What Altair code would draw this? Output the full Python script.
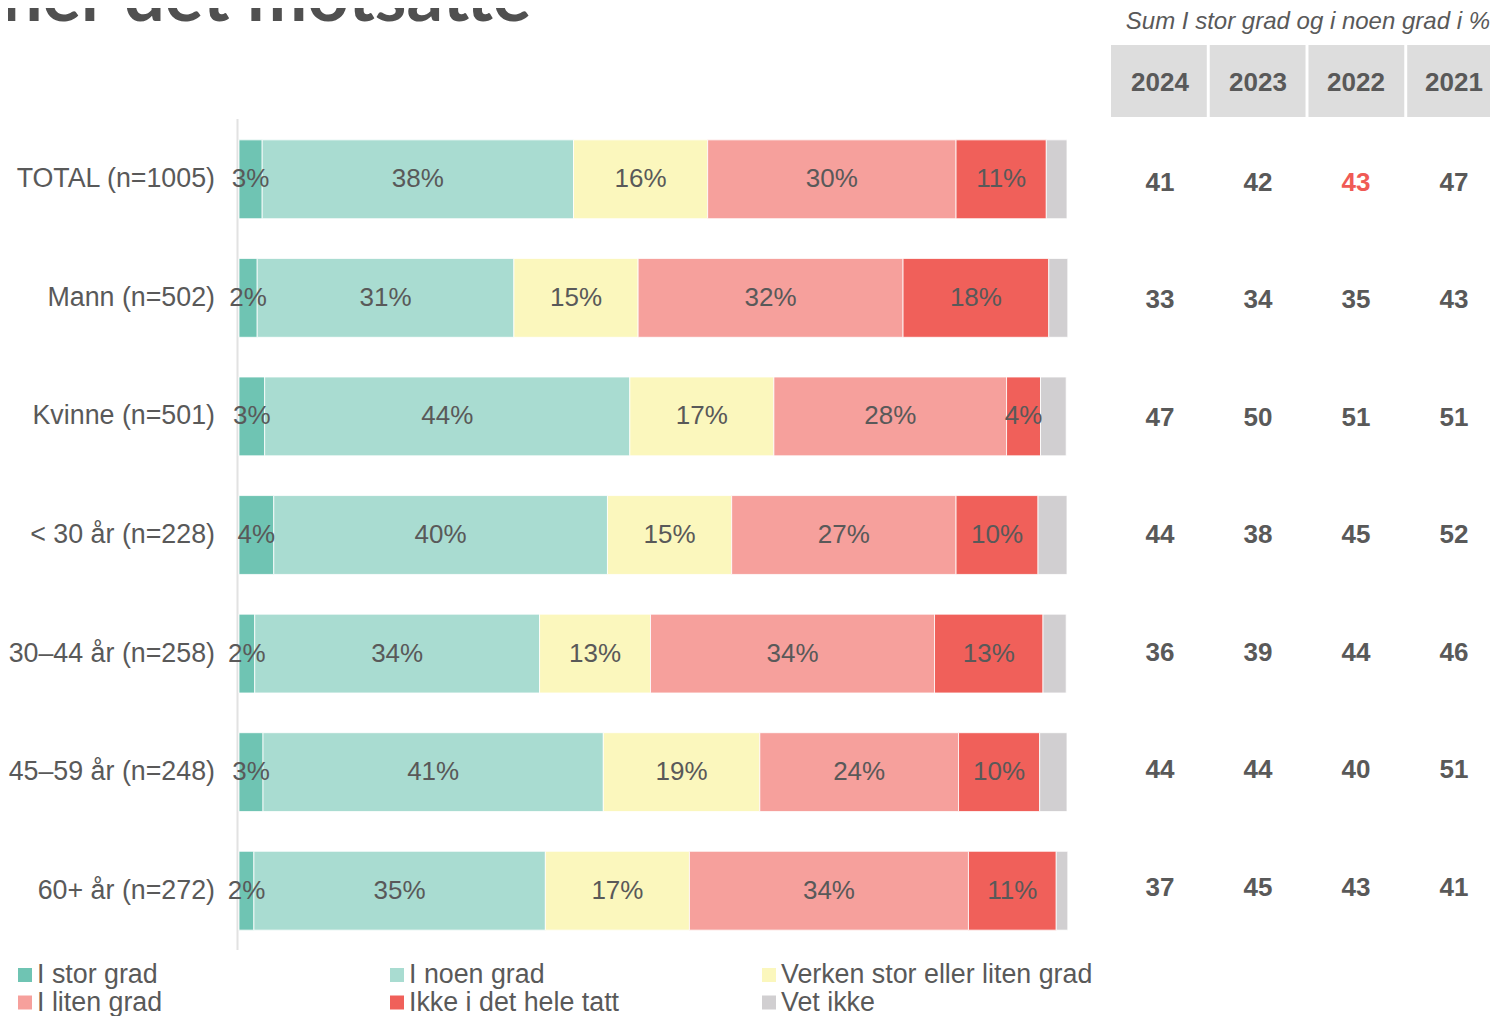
import altair as alt
import pandas as pd

# ---------------- data ----------------
groups = ["TOTAL (n=1005)", "Mann (n=502)", "Kvinne (n=501)", "< 30 år (n=228)",
          "30–44 år (n=258)", "45–59 år (n=248)", "60+ år (n=272)"]
categories = ["I stor grad", "I noen grad", "Verken stor eller liten grad",
              "I liten grad", "Ikke i det hele tatt", "Vet ikke"]
colors = ["#6FC4B3", "#A9DCD1", "#FBF7BD", "#F6A09C", "#F0605A", "#D1CFD1"]

stor = [2.8, 2.2, 3.1, 4.2, 1.9, 2.9, 1.8]
noen = [37.6, 31.0, 44.1, 40.3, 34.4, 41.1, 35.2]
verken = [16.2, 15.0, 17.4, 15.0, 13.4, 18.9, 17.4]
liten = [30.0, 32.0, 28.1, 27.1, 34.3, 24.0, 33.7]
ikke = [10.9, 17.6, 4.1, 9.9, 13.1, 9.8, 10.6]
vet = [2.5, 2.3, 3.1, 3.5, 2.8, 3.3, 1.4]
series = [stor, noen, verken, liten, ikke, vet]

years = ["2024", "2023", "2022", "2021"]
sum2024 = [41, 33, 47, 44, 36, 44, 37]
sum2023 = [42, 34, 50, 38, 39, 44, 45]
sum2022 = [43, 35, 51, 45, 44, 40, 43]
sum2021 = [47, 43, 51, 52, 46, 51, 41]
year_values = [sum2024, sum2023, sum2022, sum2021]
highlight_group = "TOTAL (n=1005)"
highlight_year = "2022"

title_text = "ner det motsatte"
subtitle_text = "Sum I stor grad og i noen grad i %"

# ---------------- tables ----------------
bar_rows = []
for ci, (cat, vals) in enumerate(zip(categories, series)):
    for g, v in zip(groups, vals):
        bar_rows.append({"group": g, "category": cat, "order": ci, "value": v})
bar_df = pd.DataFrame(bar_rows)

tab_rows = []
for y, vals in zip(years, year_values):
    for g, v in zip(groups, vals):
        tab_rows.append({"group": g, "year": y, "val": v,
                         "hl": (g == highlight_group and y == highlight_year)})
tab_df = pd.DataFrame(tab_rows)
head_df = pd.DataFrame({"year": years})
leg_df = pd.DataFrame({"category": categories,
                       "col": [i % 3 for i in range(len(categories))],
                       "row": [i // 3 for i in range(len(categories))]})

FONT = "Liberation Sans"
GREY = "#595959"

yscale = alt.Scale(domain=groups, range=[112, 942], paddingInner=0.335, paddingOuter=0.1675)
tab_yscale = alt.Scale(type="point", domain=groups, range=[174.5, 879.5], padding=0)
xscale = alt.Scale(domain=[0, 100], range=[231, 1059])
cscale = alt.Scale(domain=categories, range=colors)
yrscale = alt.Scale(domain=years, range=[1103, 1495], paddingInner=0.03, paddingOuter=0)
leg_x_sq = alt.Scale(type="point", domain=[0, 1, 2], range=[17, 761], padding=0)
leg_x_tx = alt.Scale(type="point", domain=[0, 1, 2], range=[29, 773], padding=0)
leg_y = alt.Scale(type="point", domain=[0, 1], range=[967, 994.5], padding=0)

stacked = alt.Chart(bar_df).transform_stack(
    stack="value", groupby=["group"], as_=["x0", "x1"],
    sort=[alt.SortField("order", order="ascending")]
)

bars = stacked.mark_bar(stroke="white", strokeWidth=0.8).encode(
    x=alt.X("x0:Q", scale=xscale, axis=None),
    x2="x1:Q",
    y=alt.Y("group:N", scale=yscale, axis=None),
    color=alt.Color("category:N", scale=cscale, legend=None),
)

seg_labels = stacked.transform_filter(
    alt.datum.category != "Vet ikke"
).transform_calculate(
    mid="(datum.x0 + datum.x1) / 2",
    lab="format(datum.value, '.0f') + '%'"
).mark_text(font=FONT, fontSize=26, color=GREY, baseline="middle", align="center").encode(
    x=alt.X("mid:Q", scale=xscale, axis=None),
    y=alt.Y("group:N", scale=yscale, axis=None),
    text="lab:N",
)

axis_line = alt.Chart(pd.DataFrame({"a": [0]})).mark_rule(color="#E2E2E2", strokeWidth=2).encode(
    x=alt.value(229.5), y=alt.value(111), y2=alt.value(942)
)

cat_labels = alt.Chart(pd.DataFrame({"group": groups})).mark_text(
    font=FONT, fontSize=26.8, color=GREY, align="right", baseline="middle"
).encode(
    x=alt.value(207),
    y=alt.Y("group:N", scale=yscale, axis=None),
    text="group:N",
)

head_boxes = alt.Chart(head_df).mark_bar(color="#DDDDDD").encode(
    x=alt.X("year:N", scale=yrscale, axis=None),
    y=alt.value(37), y2=alt.value(109),
)
head_text = alt.Chart(head_df).mark_text(
    font=FONT, fontSize=26, fontWeight="bold", color=GREY, baseline="middle"
).encode(
    x=alt.X("year:N", scale=yrscale, axis=None),
    y=alt.value(75),
    text="year:N",
)

tab_text = alt.Chart(tab_df).mark_text(
    font=FONT, fontSize=26, fontWeight="bold", baseline="middle"
).encode(
    x=alt.X("year:N", scale=yrscale, axis=None),
    y=alt.Y("group:N", scale=tab_yscale, axis=None),
    text="val:Q",
    color=alt.condition(alt.datum.hl, alt.value("#F05A55"), alt.value(GREY)),
)

subtitle = alt.Chart(pd.DataFrame({"t": [subtitle_text]})).mark_text(
    font=FONT, fontSize=24, fontStyle="italic", color=GREY, align="right", baseline="alphabetic"
).encode(x=alt.value(1482), y=alt.value(21), text="t:N")

title = alt.Chart(pd.DataFrame({"t": [title_text]})).mark_text(
    font="Lato", fontSize=72, fontWeight="bold", color="#505050", align="left", baseline="alphabetic"
).encode(x=alt.value(-6), y=alt.value(13), text="t:N")

leg_sq = alt.Chart(leg_df).mark_square(size=196, opacity=1).encode(
    x=alt.X("col:O", scale=leg_x_sq, axis=None),
    y=alt.Y("row:O", scale=leg_y, axis=None),
    color=alt.Color("category:N", scale=cscale, legend=None),
)
leg_txt = alt.Chart(leg_df).mark_text(
    font=FONT, fontSize=26.8, color=GREY, align="left", baseline="middle"
).encode(
    x=alt.X("col:O", scale=leg_x_tx, axis=None),
    y=alt.Y("row:O", scale=leg_y, axis=None),
    text="category:N",
)

chart = alt.layer(
    axis_line, bars, seg_labels, cat_labels, head_boxes, head_text, tab_text,
    subtitle, title, leg_sq, leg_txt
).resolve_scale(
    x="independent", y="independent"
).properties(
    width=1482, height=1008, padding=0,
    autosize=alt.AutoSizeParams(type="none"),
).configure_view(stroke=None)

chart.save("out.html", embed_options={"renderer": "svg", "actions": False})
